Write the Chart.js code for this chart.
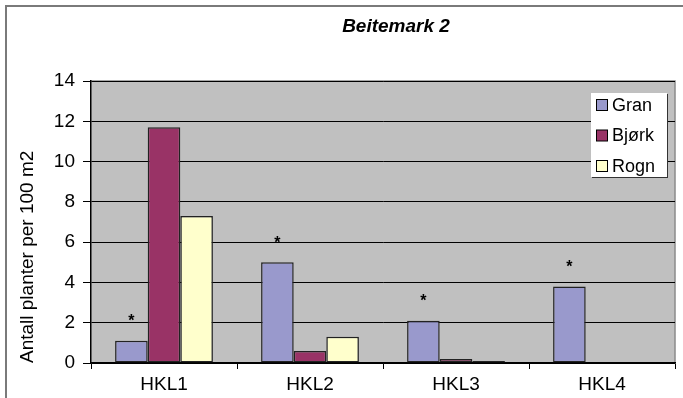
<!DOCTYPE html>
<html>
<head>
<meta charset="utf-8">
<script src="https://cdn.jsdelivr.net/npm/chart.js@4/dist/chart.umd.min.js"></script>
<style>
  html, body { margin: 0; padding: 0; background: #fff; }
  #wrap { position: relative; width: 683px; height: 398px; overflow: hidden; }
  #frame { position: absolute; left: 5px; top: 5px; width: 700px; height: 420px;
           border-left: 2px solid #7a7a7a; border-top: 2px solid #7a7a7a; pointer-events: none; }
  canvas { position: absolute; left: 0; top: 0; }
</style>
</head>
<body>
<div id="wrap">
  <canvas id="c" width="683" height="398"></canvas>
  <div id="frame"></div>
</div>
<script>
// Plant counts per 100 m2 in each height class
const categories = ['HKL1', 'HKL2', 'HKL3', 'HKL4'];
const gran  = [1.1, 5.0, 2.1, 3.8];
const bjork = [11.7, 0.6, 0.2, 0];
const rogn  = [7.3, 1.3, 0.1, 0];
// significance markers placed above the Gran bars
const granMarks = ['*', '*', '*', '*'];
const yTicks = [0, 2, 4, 6, 8, 10, 12, 14];

const FONT = "'Liberation Sans', Arial, sans-serif";

const plotBackground = {
  id: 'plotBackground',
  beforeDraw(chart) {
    const { ctx, chartArea: a } = chart;
    ctx.save();
    ctx.fillStyle = '#c0c0c0';
    ctx.fillRect(a.left, a.top, a.right - a.left, a.bottom - a.top);
    ctx.strokeStyle = '#8a8a8a';
    ctx.lineWidth = 1.5;
    ctx.beginPath();
    ctx.moveTo(a.left, a.top);
    ctx.lineTo(a.right, a.top);
    ctx.lineTo(a.right, a.bottom);
    ctx.stroke();
    ctx.restore();
  }
};

const chartTitle = {
  id: 'chartTitle',
  afterDraw(chart) {
    const { ctx } = chart;
    ctx.save();
    ctx.font = `italic bold 19px ${FONT}`;
    ctx.fillStyle = '#000';
    ctx.textAlign = 'center';
    ctx.textBaseline = 'middle';
    ctx.fillText('Beitemark 2', 396, 27);
    ctx.restore();
  }
};

const starMarks = {
  id: 'starMarks',
  afterDatasetsDraw(chart) {
    const { ctx } = chart;
    const meta = chart.getDatasetMeta(0);
    ctx.save();
    ctx.font = `bold 16px ${FONT}`;
    ctx.fillStyle = '#000';
    ctx.textAlign = 'center';
    ctx.textBaseline = 'middle';
    meta.data.forEach((bar, i) => {
      if (granMarks[i]) ctx.fillText(granMarks[i], bar.x, bar.y - 19);
    });
    ctx.restore();
  }
};

const boxLegend = {
  id: 'boxLegend',
  afterDraw(chart) {
    const { ctx, chartArea: a } = chart;
    const x = a.right - 84, y = a.top + 12, w = 76, h = 84;
    ctx.save();
    ctx.fillStyle = '#333';
    ctx.fillRect(x + 1, y + 1, w, h);
    ctx.fillStyle = '#ffffff';
    ctx.fillRect(x, y, w, h);
    ctx.font = `18px ${FONT}`;
    ctx.textBaseline = 'middle';
    chart.data.datasets.forEach((ds, i) => {
      const cy = y + 12 + i * 30.5;
      ctx.fillStyle = ds.backgroundColor;
      ctx.fillRect(x + 5.5, cy - 5.5, 11, 11);
      ctx.strokeStyle = '#000';
      ctx.lineWidth = 1;
      ctx.strokeRect(x + 5.5, cy - 5.5, 11, 11);
      ctx.fillStyle = '#000';
      ctx.fillText(ds.label, x + 21, cy + 1);
    });
    ctx.restore();
  }
};

new Chart(document.getElementById('c'), {
  type: 'bar',
  data: {
    labels: categories,
    datasets: [
      { label: 'Gran',  data: gran,  backgroundColor: '#9999cc' },
      { label: 'Bjørk', data: bjork, backgroundColor: '#993366' },
      { label: 'Rogn',  data: rogn,  backgroundColor: '#ffffcc' }
    ].map(d => Object.assign(d, {
      borderColor: '#222', borderWidth: 1.5, borderSkipped: false,
      categoryPercentage: 0.67, barPercentage: 1.0
    }))
  },
  options: {
    responsive: false,
    animation: false,
    layout: { padding: { left: 8, right: 8, top: 81, bottom: 0 } },
    plugins: {
      legend: { display: false },
      title: { display: false },
      tooltip: { enabled: false }
    },
    scales: {
      x: {
        grid: { offset: true, drawOnChartArea: false, drawTicks: true, tickLength: 6, color: '#000' },
        border: { color: '#000', width: 1.5 },
        ticks: { color: '#000', font: { family: FONT, size: 19 }, padding: 4 },
        afterFit(s) { s.height = 35; }
      },
      y: {
        min: 0, max: 14,
        afterBuildTicks(s) { s.ticks = yTicks.map(v => ({ value: v })); },
        grid: { color: '#000', lineWidth: 1, tickLength: 8, drawTicks: true },
        border: { color: '#000', width: 1.5 },
        ticks: { color: '#000', font: { family: FONT, size: 19 }, padding: 8 },
        title: { display: true, text: 'Antall planter per 100 m2', align: 'start', color: '#000',
                 font: { family: FONT, size: 19 }, padding: { top: 8, bottom: 0 } },
        afterFit(s) { s.width = 83; }
      }
    }
  },
  plugins: [plotBackground, chartTitle, starMarks, boxLegend]
});
</script>
</body>
</html>
